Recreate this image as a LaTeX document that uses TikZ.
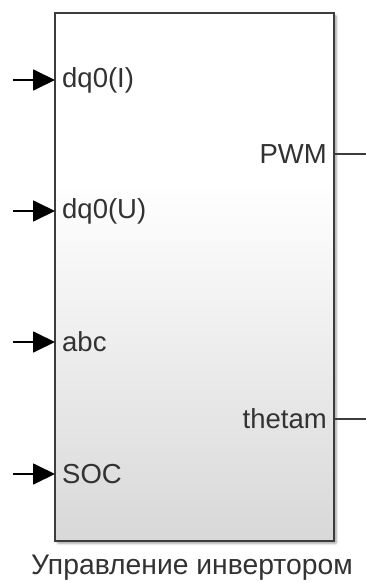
\documentclass[tikz,border=0pt]{standalone}
\usepackage{fontspec}
\setmainfont{Liberation Sans}
\usetikzlibrary{arrows.meta,shadows.blur}
\definecolor{edge}{RGB}{60,60,60}
\definecolor{txt}{RGB}{50,50,50}
\definecolor{bottomgray}{RGB}{216,216,216}
\pgfdeclareverticalshading{blkshade}{100bp}{color(0bp)=(bottomgray); color(25bp)=(bottomgray); color(59bp)=(white); color(100bp)=(white)}
\tikzset{
  blk/.style={draw=edge, line width=2pt, inner sep=0pt, outer sep=0pt, shading=blkshade,
    blur shadow={shadow xshift=2.5pt, shadow yshift=-2.5pt, shadow opacity=35, shadow blur steps=6, shadow blur extra rounding=1pt}},
  inport/.style={line width=1.8pt, -{Triangle[length=22pt,width=21pt]}},
  outport/.style={line width=1.6pt, draw=edge},
  plabel/.style={font=\fontsize{27.5}{30}\selectfont, text=txt, inner sep=0pt},
  caption/.style={font=\fontsize{28.3}{32}\selectfont, text=txt, inner sep=0pt}
}
\begin{document}
\begin{tikzpicture}[x=1pt,y=-1pt]
\useasboundingbox (0,0) rectangle (366,583);
\node[blk, minimum width=279pt, minimum height=528pt, anchor=north west] (blk) at (55,13) {};
% input port coordinates
\coordinate (i1) at (55,80);
\coordinate (i2) at (55,211);
\coordinate (i3) at (55,342);
\coordinate (i4) at (55,474);
\coordinate (s1) at (13,80);
\coordinate (s2) at (13,211);
\coordinate (s3) at (13,342);
\coordinate (s4) at (13,474);
\draw[inport] (s1) -- (i1);
\draw[inport] (s2) -- (i2);
\draw[inport] (s3) -- (i3);
\draw[inport] (s4) -- (i4);
\node[plabel, anchor=west] (l1) at (62,80) {dq0(I)};
\node[plabel, anchor=west] (l2) at (62,211) {dq0(U)};
\node[plabel, anchor=west] (l3) at (62,342) {abc};
\node[plabel, anchor=west] (l4) at (62,474) {SOC};
% outputs
\coordinate (o1) at (335,154);
\coordinate (o2) at (335,419);
\coordinate (e1) at (366,154);
\coordinate (e2) at (366,419);
\draw[outport] (o1) -- (e1);
\draw[outport] (o2) -- (e2);
\node[plabel, anchor=east] (p1) at (327,154) {PWM};
\node[plabel, anchor=east] (p2) at (327,419) {thetam};
\node[caption] (cap) at (192,568) {Управление инвертором};
\end{tikzpicture}
\end{document}
